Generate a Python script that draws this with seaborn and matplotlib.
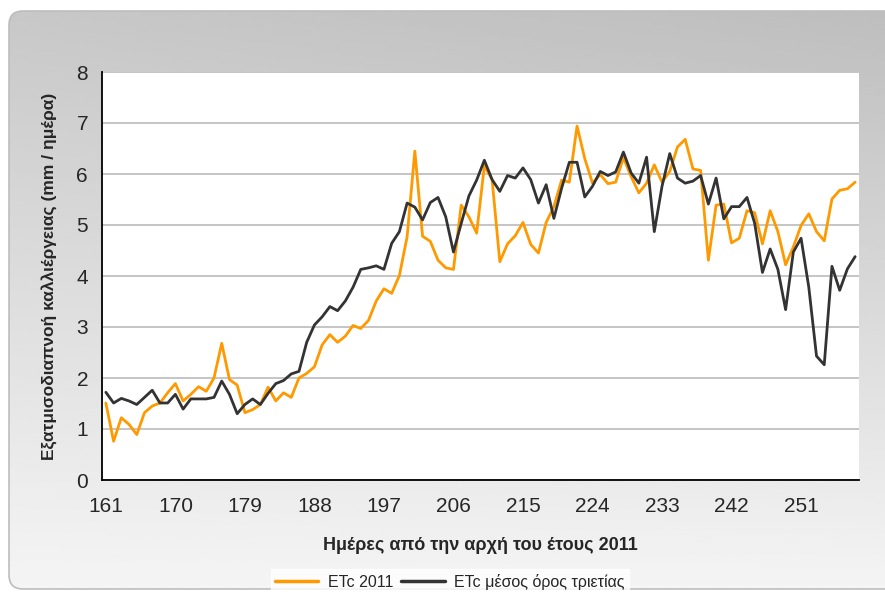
import numpy as np
import pandas as pd
import matplotlib.pyplot as plt
import seaborn as sns
from matplotlib.patches import FancyBboxPatch

# days 161..258
days = list(range(161, 259))

etc_2011 = [
    1.51, 0.76, 1.22, 1.09, 0.89, 1.32, 1.45, 1.51, 1.71, 1.89,
    1.55, 1.68, 1.83, 1.74, 2.00, 2.68, 1.97, 1.86, 1.32, 1.38,
    1.48, 1.82, 1.55, 1.71, 1.62,
    2.00, 2.09, 2.22, 2.65, 2.85, 2.70, 2.82, 3.03, 2.97, 3.13,
    3.51, 3.75, 3.66, 4.01, 4.77, 6.45, 4.78, 4.68, 4.31, 4.16,
    4.13, 5.39, 5.16, 4.84,
    6.16, 5.89, 4.28, 4.63, 4.79, 5.05, 4.62, 4.45, 5.05, 5.36,
    5.88, 5.84, 6.94, 6.30, 5.82, 5.99, 5.81, 5.84, 6.32, 5.95,
    5.63, 5.82, 6.18, 5.84, 6.05,
    6.53, 6.68, 6.10, 6.07, 4.31, 5.39, 5.41, 4.65, 4.74, 5.28,
    5.24, 4.63, 5.28, 4.87, 4.22, 4.57, 4.99, 5.22, 4.87, 4.69,
    5.51, 5.68, 5.71, 5.84,
]

etc_mean = [
    1.72, 1.51, 1.60, 1.55, 1.48, 1.62, 1.76, 1.51, 1.51, 1.68,
    1.39, 1.59, 1.59, 1.59, 1.62, 1.94, 1.68, 1.30, 1.48, 1.59,
    1.48, 1.70, 1.89, 1.95, 2.08,
    2.13, 2.70, 3.04, 3.20, 3.40, 3.32, 3.51, 3.78, 4.13, 4.16,
    4.20, 4.13, 4.64, 4.87, 5.43, 5.35, 5.10, 5.44, 5.54, 5.16,
    4.47, 5.03, 5.57, 5.88,
    6.27, 5.89, 5.66, 5.97, 5.92, 6.12, 5.89, 5.43, 5.79, 5.13,
    5.72, 6.23, 6.23, 5.55, 5.76, 6.05, 5.97, 6.04, 6.43, 6.02,
    5.82, 6.33, 4.87, 5.76, 6.40,
    5.92, 5.82, 5.86, 5.97, 5.41, 5.92, 5.12, 5.36, 5.36, 5.54,
    5.03, 4.07, 4.53, 4.13, 3.34, 4.47, 4.74, 3.78, 2.43, 2.26,
    4.19, 3.72, 4.14, 4.38,
]

series_names = ["ETc 2011", "ETc μέσος όρος τριετίας"]
colors = ["#FF9900", "#333333"]
xtick_labels = list(range(161, 252, 9))

df = pd.DataFrame({
    "day": days * 2,
    "value": etc_2011 + etc_mean,
    "series": [series_names[0]] * len(days) + [series_names[1]] * len(days),
})

sns.set_style("white")
plt.rcParams['font.family'] = ['Liberation Sans', 'DejaVu Sans']

fig = plt.figure(figsize=(8.85, 5.95), dpi=100)

# background panel with gradient and rounded corners
bg = fig.add_axes([0, 0, 1, 1], zorder=-10)
bg.set_xlim(0, 885)
bg.set_ylim(595, 0)
bg.axis("off")
yy, xx = np.mgrid[0:1:200j, 0:1:200j]
shade = 0.78 + 0.18 * yy - 0.04 * xx * (1 - yy)
shade = np.clip(shade, 0, 0.96)
img = bg.imshow(shade, cmap="gray", vmin=0, vmax=1, extent=[0, 885, 595, 0],
                aspect="auto", interpolation="bilinear")
panel = FancyBboxPatch((9, 11), 900, 578, boxstyle="round,pad=0,rounding_size=14",
                       fc="none", ec="#bdbdbd", lw=1.2, transform=bg.transData)
bg.add_patch(panel)
img.set_clip_path(panel)

ax = fig.add_axes([102 / 885, 1 - 480 / 595, (859 - 102) / 885, (480 - 72) / 595])
sns.lineplot(data=df, x="day", y="value", hue="series", palette=colors,
             linewidth=2.0, ax=ax, legend=False)

ax.set_facecolor("white")
ax.set_xlim(160.5, 258.5)
ax.set_ylim(0, 8)
ax.set_yticks(range(0, 9))
ax.yaxis.grid(True, color="#c0c0c0", linewidth=1.3)
ax.set_axisbelow(True)
for s in ["top", "right"]:
    ax.spines[s].set_visible(False)
for s in ["left", "bottom"]:
    ax.spines[s].set_color("black")
    ax.spines[s].set_linewidth(1.3)

ax.set_xticks(xtick_labels)
ax.set_xticklabels([str(d) for d in xtick_labels], fontsize=15)
ax.tick_params(axis="x", length=0, pad=12)
ax.set_xticks(np.arange(160.5, 259, 1), minor=True)
ax.tick_params(axis="x", which="minor", length=6, width=1.2, direction="out", color="black")
ax.tick_params(axis="y", labelsize=15, length=6, width=1.2, direction="out", color="black", pad=4)

ax.set_xlabel("Ημέρες από την αρχή του έτους 2011", fontsize=13, fontweight="bold", labelpad=15)
ax.set_ylabel("Εξατμισοδιαπνοή καλλιέργειας (mm / ημέρα)", fontsize=12.5, fontweight="bold", labelpad=13)

handles = [plt.Line2D([], [], color=c, lw=2.5) for c in colors]
leg = fig.legend(handles, series_names, loc="center", bbox_to_anchor=(450 / 885, 1 - 582 / 595),
                 ncol=2, frameon=True, fontsize=11.5, handlelength=2.7, handletextpad=0.6,
                 columnspacing=0.5, borderpad=0.3, fancybox=False)
leg.get_frame().set_facecolor("white")
leg.get_frame().set_edgecolor("white")

plt.savefig("out.png", dpi=100)
